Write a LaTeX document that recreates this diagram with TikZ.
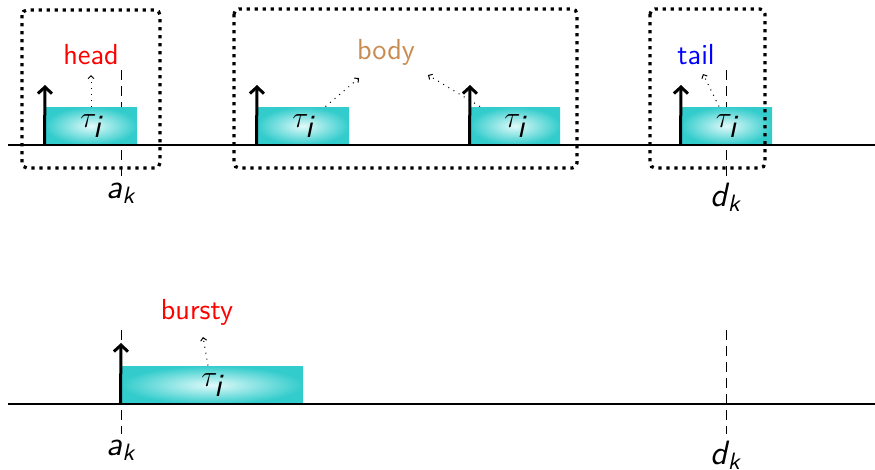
\documentclass[tikz,border=0pt]{standalone}
\usetikzlibrary{arrows.meta}
\definecolor{taskteal}{RGB}{51,204,204}
\definecolor{taskglow}{RGB}{225,250,250}
\definecolor{bodybrown}{RGB}{200,140,80}
\newcommand{\taui}{$\tau_{\textsf{\slshape i}}$}
\begin{document}
\begin{tikzpicture}[x=0.4pt,y=-0.4pt,
  font=\fontsize{11.6}{13}\selectfont\sffamily,
  sym/.style={font=\fontsize{13.5}{15}\selectfont\sffamily\slshape},
  task/.style={minimum height=15.2pt, inner sep=0pt, shade,
    inner color=taskglow, outer color=taskteal,
    font=\fontsize{13}{15}\selectfont\sffamily},
  release/.style={line width=1.2pt, -{Straight Barb[length=2.6pt,width=5.6pt]}},
  window/.style={line width=1.3pt, dash pattern=on 1.3pt off 1.9pt, rounded corners=2pt},
  mark line/.style={line width=0.4pt, dash pattern=on 4pt off 2.4pt},
  pointer/.style={line width=0.4pt, dotted, -{Straight Barb[length=1.2pt,width=2.4pt]}},
  axis/.style={line width=0.45pt}]
\useasboundingbox (0,0) rectangle (875,469);

% ---------------- upper time line ----------------
\coordinate (l1) at (8,145);
\coordinate (r1) at (875,145);

% dashed markers a_k and d_k
\coordinate (ak1t) at (121,70);
\coordinate (ak1b) at (121,178);
\coordinate (dk1t) at (726,70);
\coordinate (dk1b) at (726,178);
\draw[mark line] (ak1t) -- (ak1b);
\draw[mark line] (dk1t) -- (dk1b);
\node[sym] (ak1) at (121,193) {a\textsubscript{k}};
\node[sym] (dk1) at (726,197) {d\textsubscript{k}};

% job instances
\node[task, minimum width=36.8pt] (t1) at (91,126) {\taui};
\node[task, minimum width=36.8pt] (t2) at (303,126) {\taui};
\node[task, minimum width=36pt] (t3) at (515,126) {\taui};
\node[task, minimum width=36.4pt] (t4) at (726.5,126) {\taui};

\draw[axis] (l1) -- (r1);

% releases
\coordinate (a1) at (45,85);
\coordinate (a2) at (257,85);
\coordinate (a3) at (470,85);
\coordinate (a4) at (681,85);
\draw[release] (t1.south west) -- (a1);
\draw[release] (t2.south west) -- (a2);
\draw[release] (t3.south west) -- (a3);
\draw[release] (t4.south west) -- (a4);

% windows
\draw[window] (22,10) rectangle (160,168);
\draw[window] (234,9) rectangle (577,168);
\draw[window] (650,9) rectangle (765,168);

% window labels
\node[text=red] (head) at (91,55) {head};
\node[text=bodybrown] (body) at (386,52) {body};
\node[text=blue] (tail) at (696,55) {tail};

\coordinate (hp) at (91,75);
\coordinate (bp1) at (359,78);
\coordinate (bp2) at (428,75);
\coordinate (tp) at (703,74);
\draw[pointer] (t1.north) -- (hp);
\draw[pointer] ([xshift=9pt]t2.north) -- (bp1);
\draw[pointer] ([xshift=-14pt]t3.north) -- (bp2);
\draw[pointer] ([xshift=-3pt]t4.north) -- (tp);

% ---------------- lower time line ----------------
\coordinate (l2) at (8,404);
\coordinate (r2) at (875,404);

\coordinate (ak2t) at (121,330);
\coordinate (ak2b) at (121,434);
\coordinate (dk2t) at (726,330);
\coordinate (dk2b) at (726,434);
\draw[mark line] (ak2t) -- (ak2b);
\draw[mark line] (dk2t) -- (dk2b);
\node[sym] (ak2) at (121,450) {a\textsubscript{k}};
\node[sym] (dk2) at (726,455) {d\textsubscript{k}};

\node[task, minimum width=72.8pt] (t5) at (212,385) {\taui};
\draw[axis] (l2) -- (r2);

\coordinate (a5) at (121,343);
\draw[release] (t5.south west) -- (a5);

\node[text=red] (bursty) at (197,312) {bursty};
\coordinate (bup) at (203,337);
\draw[pointer] ([xshift=-1.6pt]t5.north) -- (bup);
\end{tikzpicture}
\end{document}
